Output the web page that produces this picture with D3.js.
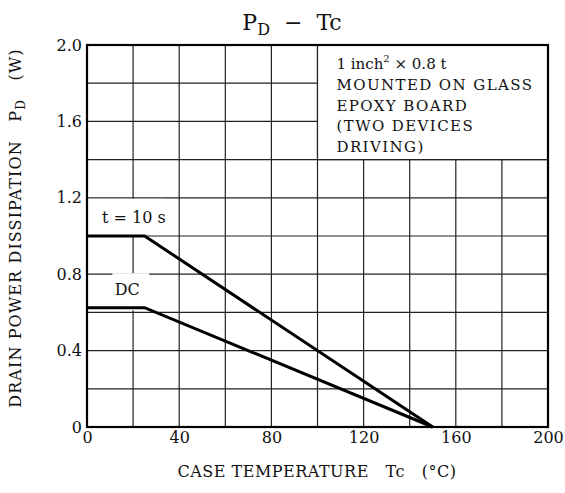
<!DOCTYPE html>
<html><head><meta charset="utf-8">
<script src="https://cdn.jsdelivr.net/npm/d3@7"></script>
<style>body{margin:0;background:#fff}svg{display:block}text{font-family:"DejaVu Serif",serif;fill:#111}</style>
</head><body>
<svg id="c" width="565" height="493"></svg>
<script>
const xTicks = [0, 40, 80, 120, 160, 200];
const yTicks = [0, 0.4, 0.8, 1.2, 1.6, 2.0];
const xGrid = [0,20,40,60,80,100,120,140,160,180,200];
const yGrid = [0,0.2,0.4,0.6,0.8,1.0,1.2,1.4,1.6,1.8,2.0];
const tc10s = [0, 25, 150];
const pd10s = [1.0, 1.0, 0];
const tcDC = [0, 25, 150];
const pdDC = [0.625, 0.625, 0];
const noteLines = ["MOUNTED ON GLASS", "EPOXY BOARD", "(TWO DEVICES", "DRIVING)"];

const svg = d3.select("#c");
const L = 87, R = 548, T = 45, B = 427;
const x = d3.scaleLinear().domain([0,200]).range([L,R]);
const y = d3.scaleLinear().domain([0,2]).range([B,T]);
const FF = '"DejaVu Serif",serif';

// grid
const g = svg.append("g").attr("stroke","#222").attr("stroke-width",1.2);
xGrid.forEach(v=>g.append("line").attr("x1",x(v)).attr("x2",x(v)).attr("y1",T).attr("y2",B));
yGrid.forEach(v=>g.append("line").attr("x1",L).attr("x2",R).attr("y1",y(v)).attr("y2",y(v)));

// white boxes covering grid
svg.append("rect").attr("x",x(100)).attr("y",T).attr("width",R-x(100)).attr("height",y(1.4)-T).attr("fill","#fff").attr("stroke","#222").attr("stroke-width",1.2);
svg.append("rect").attr("x",L+1).attr("y",y(1.2)+1).attr("width",x(33)-L).attr("height",y(1.0)-y(1.2)-2).attr("fill","#fff");
svg.append("rect").attr("x",x(11)).attr("y",y(0.8)-1).attr("width",x(27)-x(11)).attr("height",y(0.6)-y(0.8)-1).attr("fill","#fff");

// curves
const line = d3.line().x(d=>x(d[0])).y(d=>y(d[1]));
const c1 = tc10s.map((t,i)=>[t,pd10s[i]]);
const c2 = tcDC.map((t,i)=>[t,pdDC[i]]);
[c1,c2].forEach(c=>svg.append("path").attr("d",line(c)).attr("fill","none").attr("stroke","#000").attr("stroke-width",3).attr("stroke-linejoin","miter"));

// frame
svg.append("rect").attr("x",L).attr("y",T).attr("width",R-L).attr("height",B-T).attr("fill","none").attr("stroke","#000").attr("stroke-width",2.2);

// axes ticks labels
const xa = svg.append("g").attr("transform",`translate(0,${B})`).call(d3.axisBottom(x).tickValues(xTicks).tickSize(0).tickPadding(5).tickFormat(d3.format("d")));
xa.select(".domain").remove();
xa.selectAll("text").attr("font-size",16).style("font-family",FF).attr("fill","#111");
const ya = svg.append("g").attr("transform",`translate(${L},0)`).call(d3.axisLeft(y).tickValues(yTicks).tickSize(0).tickPadding(5).tickFormat(d=>d===0?"0":d3.format(".1f")(d)));
ya.select(".domain").remove();
ya.selectAll("text").attr("font-size",16).style("font-family",FF).attr("fill","#111");

// labels
svg.append("text").attr("x",x(6.5)).attr("y",y(1.07)).attr("font-size",16).text("t = 10 s");
svg.append("text").attr("x",x(12)).attr("y",y(0.69)).attr("font-size",16).text("DC");

// note
const nx = x(100)+19;
const n0 = svg.append("text").attr("x",nx).attr("y",69).attr("font-size",15);
n0.append("tspan").text("1 inch");
n0.append("tspan").attr("dy",-7).attr("font-size",10).text("2");
n0.append("tspan").attr("dy",7).text(" × 0.8 t");
noteLines.forEach((s,i)=>svg.append("text").attr("x",nx).attr("y",90+i*20.5).attr("font-size",15).attr("letter-spacing",1.4).text(s));

// title
const tt = svg.append("text").attr("x",292).attr("y",30).attr("text-anchor","middle").attr("font-size",22).style("white-space","pre");
tt.append("tspan").text("P");
tt.append("tspan").attr("dy",5).attr("font-size",16).text("D");
tt.append("tspan").attr("dy",-5).text("  −  Tc");

// x title
svg.append("text").attr("x",317).attr("y",477).attr("text-anchor","middle").attr("font-size",16).attr("letter-spacing",0.5).style("white-space","pre").text("CASE TEMPERATURE   Tc   (°C)");

// y title
const yt = svg.append("text").attr("transform","translate(21,228) rotate(-90)").attr("text-anchor","middle").attr("font-size",16).attr("letter-spacing",1.1).style("white-space","pre");
yt.append("tspan").text("DRAIN POWER DISSIPATION   P");
yt.append("tspan").attr("dy",4).attr("font-size",12).text("D");
yt.append("tspan").attr("dy",-4).text("   (W)");
</script>
</body></html>
